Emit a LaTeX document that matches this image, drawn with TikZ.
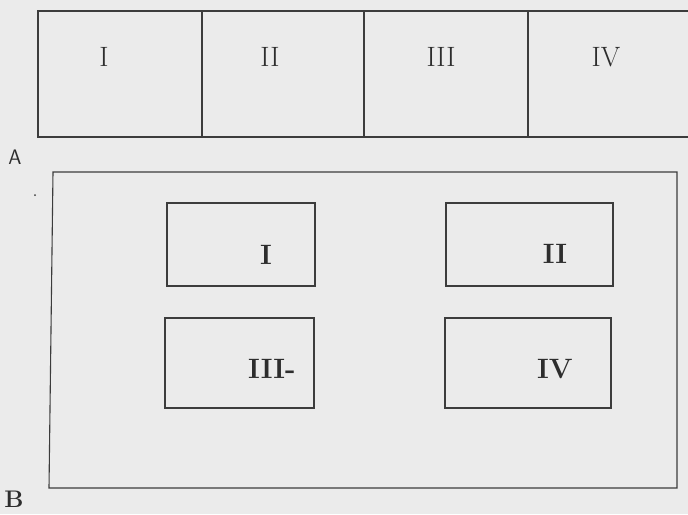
\documentclass[tikz,border=0pt]{standalone}
\usepackage{fontspec}
\definecolor{paper}{RGB}{235,235,235}
\definecolor{ink}{RGB}{60,60,60}
\definecolor{textink}{RGB}{45,45,45}
\begin{document}
\begin{tikzpicture}[x=1pt,y=-1pt,
  frame/.style={draw=ink,line width=1.1pt},
  toplabel/.style={font=\fontsize{28}{32}\selectfont,text=textink,inner sep=0pt},
  boxlabel/.style={font=\fontsize{28}{32}\selectfont\bfseries,text=textink,inner sep=0pt},
  letter/.style={inner sep=0pt,text=textink}]
\fill[paper] (0,0) rectangle (688,514);
\useasboundingbox (0,0) rectangle (688,514);
\begin{scope}
\clip (0,0) rectangle (688,514);
% Row A
\draw[frame] (38,11) rectangle (692,137);
\draw[frame] (202,11) -- (202,137);
\draw[frame] (364,11) -- (364,137);
\draw[frame] (528,11) -- (528,137);
\end{scope}
\node[toplabel] (a1) at (104,57) {I};
\node[toplabel] (a2) at (270,57) {II};
\node[toplabel] (a3) at (441,57) {III};
\node[toplabel] (a4) at (606,57) {IV};
\node[letter,font=\sffamily\fontsize{21}{24}\selectfont] (la) at (15,157) {A};
% Frame B
\draw[frame] (53,172) -- (677,172) -- (677,488) -- (49,488) -- cycle;
\draw[frame] (167,203) rectangle (315,286);
\draw[frame] (446,203) rectangle (613,286);
\draw[frame] (165,318) rectangle (314,408);
\draw[frame] (445,318) rectangle (611,408);
\node[boxlabel] (b1) at (266,255) {I};
\node[boxlabel] (b2) at (555,254) {II};
\node[boxlabel,anchor=west] (b3) at (248,369) {III-};
\node[boxlabel] (b4) at (555,369) {IV};
\fill[ink] (35,195) circle (1pt);
\node[letter,font=\fontsize{24}{28}\selectfont\bfseries,anchor=south] (lb) at (14,508) {B};
\end{tikzpicture}
\end{document}
